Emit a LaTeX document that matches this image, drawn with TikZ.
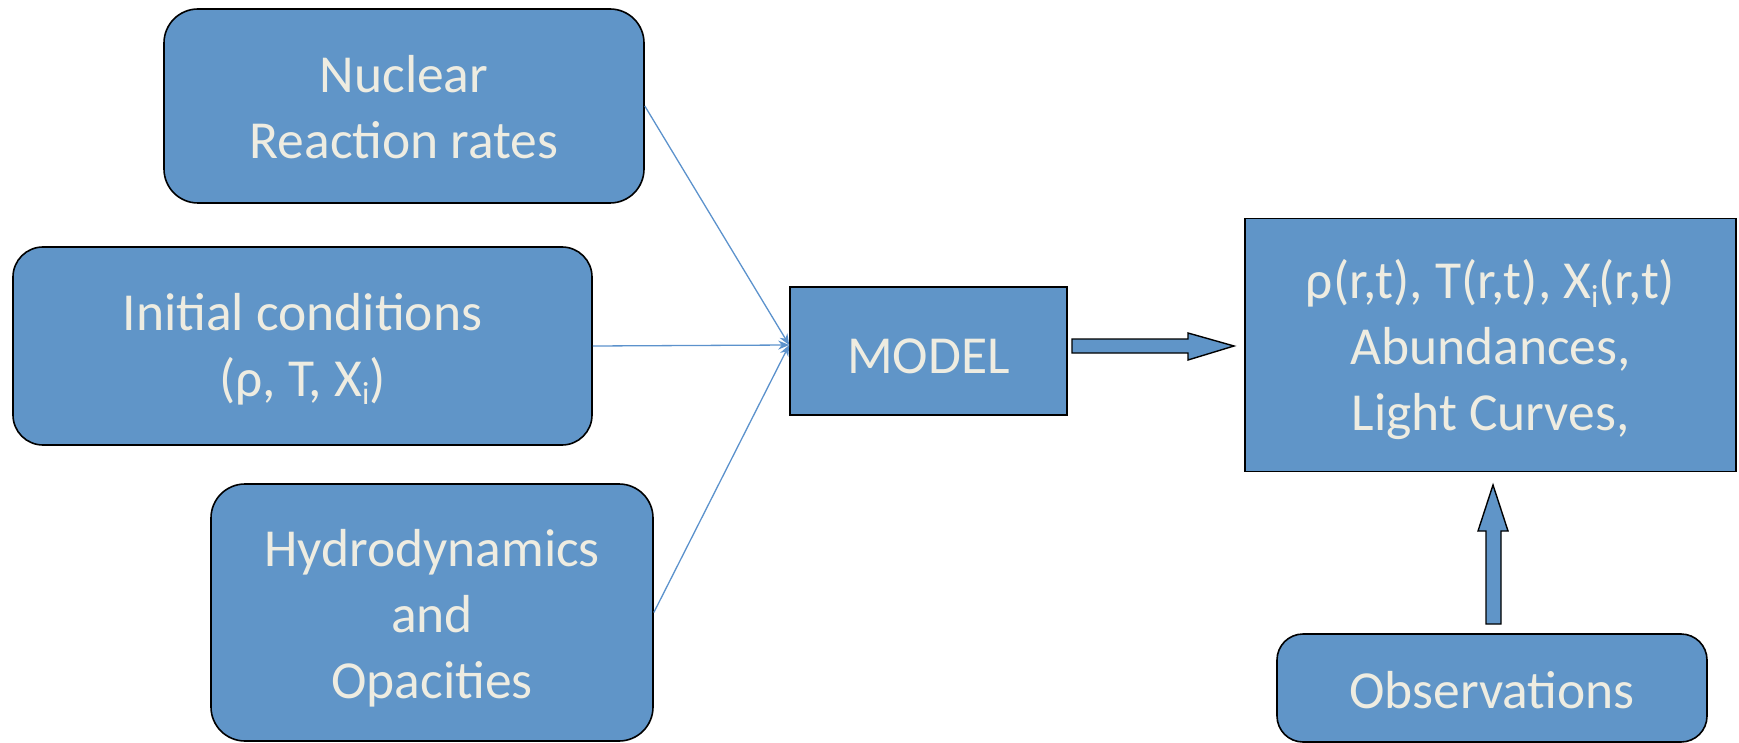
\documentclass[tikz,border=0pt]{standalone}
\usepackage{fontspec}
\setmainfont{Carlito}
\usetikzlibrary{arrows.meta}
\definecolor{boxfill}{RGB}{96,149,200}
\definecolor{boxtext}{RGB}{238,236,225}
\definecolor{linkcol}{RGB}{92,146,204}
\newcommand{\subi}{\raisebox{-0.32ex}{\fontsize{32}{32}\selectfont i}}
\tikzset{
  rbox/.style={draw=black, line width=1.6pt, fill=boxfill, rounded corners=34pt, inner sep=0pt},
  sbox/.style={draw=black, line width=1.6pt, fill=boxfill, inner sep=0pt},
  txt/.style={text=boxtext, align=center, inner sep=0pt, font=\fontsize{53.5}{66}\selectfont},
  link/.style={draw=linkcol, line width=1.3pt, -{Stealth[length=11pt,width=9pt]}},
  blockarrow/.style={draw=black, line width=1.4pt, fill=boxfill, line join=miter}
}
\begin{document}
\begin{tikzpicture}[x=1pt,y=-1pt]
\useasboundingbox (0,0) rectangle (1739,743);
\node[rbox, minimum width=480pt, minimum height=194pt] (nuc) at (404,106) {};
\node[rbox, minimum width=579pt, minimum height=198pt, rounded corners=30pt] (ini) at (302.5,346) {};
\node[rbox, minimum width=442pt, minimum height=257pt] (hyd) at (432,612.5) {};
\node[sbox, minimum width=277pt, minimum height=128pt] (model) at (928.5,351) {};
\node[sbox, minimum width=491pt, minimum height=253pt] (res) at (1490.5,345) {};
\node[rbox, minimum width=430pt, minimum height=108pt, rounded corners=26pt] (obs) at (1492,688) {};
\node[txt] (nuct) at ([yshift=-1pt]nuc.center) {Nuclear\\Reaction rates};
\node[txt] (init) at ([yshift=-3pt]ini.center) {Initial conditions\\(ρ, T, X\subi)};
\node[txt] (hydt) at ([yshift=-6pt]hyd.center) {Hydrodynamics\\and\\Opacities};
\node[txt] (modelt) at ([yshift=-5pt]model.center) {MODEL};
\node[txt] (rest) at ([yshift=-5pt]res.center) {ρ(r,t), T(r,t), X\subi(r,t)\\Abundances,\\Light Curves,};
\node[txt] (obst) at ([yshift=-2pt]obs.center) {Observations};
\coordinate (hub) at ([yshift=6pt]model.west);
\draw[link] (nuc.east) -- (hub);
\draw[link] (ini.east) -- (hub);
\draw[link] (hyd.east) -- (hub);
% block arrow right
\draw[blockarrow] (1072,339) -- (1188,339) -- (1188,333) -- (1234,346) -- (1188,360) -- (1188,353) -- (1072,353) -- cycle;
% block arrow up
\draw[blockarrow] (1486,624) -- (1486,531) -- (1478,531) -- (1493,485) -- (1508,531) -- (1501,531) -- (1501,624) -- cycle;
\end{tikzpicture}
\end{document}
